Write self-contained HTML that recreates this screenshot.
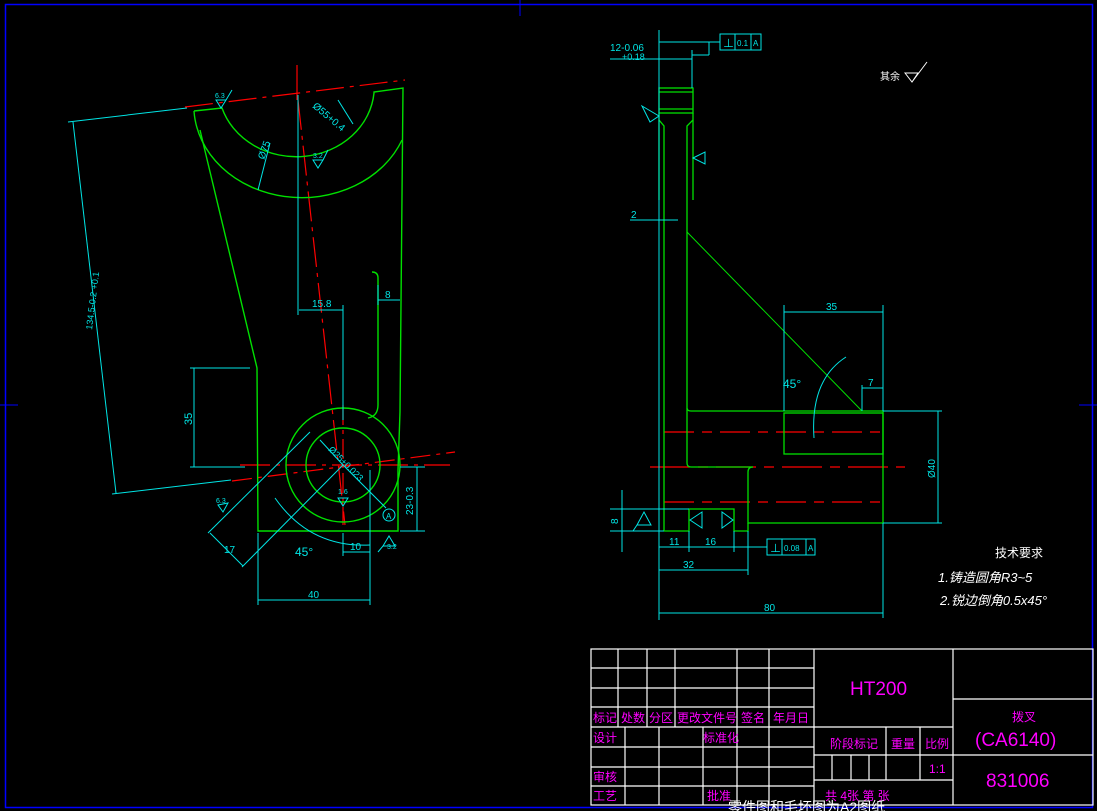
<!DOCTYPE html>
<html><head><meta charset="utf-8"><style>
html,body{margin:0;padding:0;background:#000;}
svg{display:block}
text{font-family:"Liberation Sans","Noto Sans CJK SC",sans-serif;}
</style></head><body>
<svg width="1097" height="811" viewBox="0 0 1097 811" xmlns="http://www.w3.org/2000/svg">
<rect width="1097" height="811" fill="#000"/>
<!-- border -->
<rect x="5.5" y="4.5" width="1087" height="803" fill="none" stroke="#0000ff" stroke-width="1.5"/>
<g stroke="#0000ff" stroke-width="1">
<line x1="520" y1="0" x2="520" y2="16"/><line x1="0" y1="405" x2="18" y2="405"/><line x1="1079" y1="405" x2="1097" y2="405"/>
</g>

<!-- LEFT VIEW -->
<g fill="none" stroke="#ff0000" stroke-width="1.2">
<line x1="185" y1="107" x2="405" y2="80" stroke-dasharray="28,6,4,6"/>
<line x1="297" y1="65" x2="297" y2="100"/>
<line x1="298" y1="100" x2="345" y2="525" stroke-dasharray="30,6,4,6"/>
<line x1="240" y1="465" x2="450" y2="465" stroke-dasharray="30,6,4,6"/>
<line x1="232" y1="481" x2="455" y2="452" stroke-dasharray="20,6,4,6"/>
<line x1="343" y1="405" x2="343" y2="525" stroke-dasharray="20,5,4,5"/>
</g>
<g fill="none" stroke="#00e000" stroke-width="1.4">
<path d="M194,111 L222,108 A78,70 0 0 0 374,93 L374,92 L403,88 L400,412"/>
<path d="M194,111 A108,92 0 0 0 402,140"/>
<path d="M200,130 L257,368 L258,531 L398,531 L398,470"/>
<path d="M372,272 Q378,272 378,278 L378,405 Q378,416 368,418"/>
<line x1="400" y1="412" x2="398" y2="470"/>
<circle cx="343" cy="465" r="57"/>
<circle cx="343" cy="465" r="37"/>
</g>
<g fill="none" stroke="#00e5e5" stroke-width="1">
<line x1="298" y1="95" x2="298" y2="315"/>
<line x1="299" y1="310" x2="343" y2="310"/><line x1="343" y1="305" x2="343" y2="420"/>
<text x="312" y="307" fill="#00e5e5" stroke="none" font-size="10">15.8</text>
<line x1="378" y1="300" x2="400" y2="300"/><line x1="378" y1="285" x2="378" y2="305"/>
<text x="385" y="298" fill="#00e5e5" stroke="none" font-size="10">8</text>
<line x1="190" y1="368" x2="250" y2="368"/><line x1="190" y1="467" x2="245" y2="467"/>
<line x1="194" y1="368" x2="194" y2="467"/>
<text x="192" y="425" fill="#00e5e5" stroke="none" font-size="11" transform="rotate(-90 192 425)">35</text>
<line x1="68" y1="122" x2="187" y2="108"/><line x1="112" y1="494" x2="231" y2="480"/>
<line x1="73" y1="122" x2="116" y2="493"/>
<text x="92" y="330" fill="#00e5e5" stroke="none" font-size="9" transform="rotate(-83 92 330)">134.5-0.2 +0.1</text>
<line x1="258" y1="533" x2="258" y2="605"/><line x1="370" y1="470" x2="370" y2="605"/>
<line x1="258" y1="600" x2="370" y2="600"/>
<text x="308" y="598" fill="#00e5e5" stroke="none" font-size="10">40</text>
<line x1="343" y1="533" x2="343" y2="556"/><line x1="343" y1="552" x2="370" y2="552"/>
<text x="350" y="550" fill="#00e5e5" stroke="none" font-size="10">10</text>
<line x1="400" y1="467" x2="425" y2="467"/><line x1="400" y1="531" x2="425" y2="531"/>
<line x1="417" y1="467" x2="417" y2="531"/>
<text x="413" y="515" fill="#00e5e5" stroke="none" font-size="10" transform="rotate(-90 413 515)">23-0.3</text>
<line x1="343" y1="465" x2="386" y2="508"/><line x1="320" y1="440" x2="343" y2="465"/>
<text x="328" y="450" fill="#00e5e5" stroke="none" font-size="9" transform="rotate(45 328 450)">Ø25+0.023</text>
<circle cx="389" cy="515" r="6"/><text x="386" y="519" fill="#00e5e5" stroke="none" font-size="8">A</text>
<line x1="208" y1="533" x2="310" y2="432"/><line x1="242" y1="567" x2="343" y2="465"/>
<line x1="210" y1="533" x2="243" y2="566"/>
<text x="224" y="553" fill="#00e5e5" stroke="none" font-size="10">17</text>
<path d="M275,498 Q310,548 370,545"/>
<text x="295" y="556" fill="#00e5e5" stroke="none" font-size="12">45°</text>
<path d="M216,100 L226,100 L221,108 Z M226,100 L232,90"/><text x="215" y="98" fill="#00e5e5" stroke="none" font-size="7">6.3</text>
<path d="M313,160 L323,160 L318,168 Z M323,160 L328,150"/><text x="313" y="158" fill="#00e5e5" stroke="none" font-size="7">3.2</text>
<path d="M338,498 L348,498 L343,506 Z"/><text x="338" y="494" fill="#00e5e5" stroke="none" font-size="7">1.6</text>
<path d="M383,546 L395,546 L389,536 Z M383,546 L378,552"/><text x="387" y="549" fill="#00e5e5" stroke="none" font-size="7">3.2</text>
<path d="M218,505 L228,503 L223,512 Z"/><text x="216" y="503" fill="#00e5e5" stroke="none" font-size="7">6.3</text>
<line x1="338" y1="100" x2="353" y2="124"/><text x="312" y="107" fill="#00e5e5" stroke="none" font-size="10" transform="rotate(40 312 107)">Ø55+0.4</text>
<line x1="270" y1="143" x2="258" y2="190"/><text x="264" y="160" fill="#00e5e5" stroke="none" font-size="10" transform="rotate(-70 264 160)">Ø75</text>
</g>

<!-- RIGHT VIEW -->
<g fill="none" stroke="#ff0000" stroke-width="1.2">
<line x1="664" y1="432" x2="883" y2="432" stroke-dasharray="30,8,10,8"/>
<line x1="664" y1="502" x2="883" y2="502" stroke-dasharray="30,8,10,8"/>
<line x1="650" y1="467" x2="905" y2="467" stroke-dasharray="40,8,10,8"/>
</g>
<g fill="none" stroke="#00e000" stroke-width="1.3">
<rect x="659" y="88" width="34" height="25"/>
<line x1="659" y1="92" x2="693" y2="92"/><line x1="659" y1="109" x2="693" y2="109"/>
<path d="M659,113 L659,120 L664,126 L664,200"/><path d="M693,113 L693,120 L687,126 L687,200"/>
<path d="M659,120 L659,200 M693,120 L693,200"/>
<line x1="664" y1="200" x2="664" y2="531"/>
<path d="M687,200 L687,408 Q687,411 691,411 L883,411 L883,523 L748,523 L748,472 Q748,467 753,467"/>
<path d="M687,408 L687,463 Q687,467 691,467 L753,467"/>
<rect x="784" y="413" width="99" height="41"/>
<path d="M664,531 L689,531 L689,509 L734,509 L734,531 L748,531 L748,523"/>
<line x1="687" y1="232" x2="862" y2="411" stroke-width="1"/>
</g>
<g fill="none" stroke="#00e5e5" stroke-width="1">
<line x1="659" y1="30" x2="659" y2="620"/><line x1="692" y1="50" x2="692" y2="88"/>
<line x1="610" y1="59" x2="692" y2="59"/>
<text x="610" y="51" fill="#00e5e5" stroke="none" font-size="10">12-0.06</text>
<text x="622" y="60" fill="#00e5e5" stroke="none" font-size="9">+0.18</text>
<line x1="659" y1="42" x2="720" y2="42"/><line x1="709" y1="42" x2="709" y2="55"/><line x1="692" y1="55" x2="709" y2="55"/>
<rect x="720" y="34" width="41" height="16"/><line x1="735" y1="34" x2="735" y2="50"/><line x1="751" y1="34" x2="751" y2="50"/>
<text x="723" y="47" fill="#00e5e5" stroke="none" font-size="11">⊥</text><text x="737" y="46" fill="#00e5e5" stroke="none" font-size="8">0.1</text><text x="753" y="46" fill="#00e5e5" stroke="none" font-size="8">A</text>
<line x1="630" y1="220" x2="678" y2="220"/><text x="631" y="218" fill="#00e5e5" stroke="none" font-size="10">2</text>
<path d="M642,106 L659,116 L650,122 Z"/><path d="M693,158 L705,152 L705,164 Z"/>
<line x1="784" y1="305" x2="784" y2="411"/><line x1="883" y1="305" x2="883" y2="411"/>
<line x1="784" y1="312" x2="883" y2="312"/><text x="826" y="310" fill="#00e5e5" stroke="none" font-size="10">35</text>
<line x1="862" y1="385" x2="862" y2="411"/><line x1="862" y1="388" x2="883" y2="388"/><text x="868" y="386" fill="#00e5e5" stroke="none" font-size="10">7</text>
<path d="M846,357 Q810,380 814,438"/><text x="783" y="388" fill="#00e5e5" stroke="none" font-size="12">45°</text>
<line x1="883" y1="411" x2="942" y2="411"/><line x1="883" y1="523" x2="942" y2="523"/><line x1="938" y1="411" x2="938" y2="523"/>
<text x="935" y="478" fill="#00e5e5" stroke="none" font-size="10" transform="rotate(-90 935 478)">Ø40</text>
<line x1="883" y1="523" x2="883" y2="618"/><line x1="659" y1="613" x2="883" y2="613"/><text x="764" y="611" fill="#00e5e5" stroke="none" font-size="10">80</text>
<line x1="748" y1="531" x2="748" y2="575"/><line x1="659" y1="570" x2="748" y2="570"/><text x="683" y="568" fill="#00e5e5" stroke="none" font-size="10">32</text>
<line x1="689" y1="531" x2="689" y2="552"/><line x1="734" y1="531" x2="734" y2="552"/>
<line x1="659" y1="547" x2="767" y2="547"/><text x="669" y="545" fill="#00e5e5" stroke="none" font-size="10">11</text><text x="705" y="545" fill="#00e5e5" stroke="none" font-size="10">16</text>
<rect x="767" y="539" width="48" height="16"/><line x1="782" y1="539" x2="782" y2="555"/><line x1="806" y1="539" x2="806" y2="555"/>
<text x="770" y="552" fill="#00e5e5" stroke="none" font-size="11">⊥</text><text x="784" y="551" fill="#00e5e5" stroke="none" font-size="8">0.08</text><text x="808" y="551" fill="#00e5e5" stroke="none" font-size="8">A</text>
<line x1="610" y1="509" x2="689" y2="509"/><line x1="610" y1="531" x2="664" y2="531"/>
<line x1="622" y1="490" x2="622" y2="552"/><text x="618" y="524" fill="#00e5e5" stroke="none" font-size="10" transform="rotate(-90 618 524)">8</text>
<path d="M637,525 L651,525 L644,512 Z M637,525 L633,531"/>
<path d="M690,520 L702,512 L702,528 Z"/><path d="M733,520 L722,512 L722,528 Z"/>
</g>

<!-- notes -->
<text x="880" y="80" fill="#fff" font-size="10">其余</text>
<path d="M905,73 L912,82 L918,73 Z M912,82 L927,62" fill="none" stroke="#fff"/>
<text x="995" y="557" fill="#fff" font-size="12">技术要求</text>
<text x="938" y="582" fill="#fff" font-size="13" font-style="italic">1.铸造圆角R3~5</text>
<text x="940" y="605" fill="#fff" font-size="13" font-style="italic">2.锐边倒角0.5x45°</text>

<!-- TITLE BLOCK -->
<g stroke="#fff" stroke-width="1.2" fill="none">
<rect x="591" y="649" width="502" height="156"/>
<line x1="591" y1="668" x2="814" y2="668"/><line x1="591" y1="688" x2="814" y2="688"/>
<line x1="591" y1="707" x2="814" y2="707"/><line x1="591" y1="727" x2="953" y2="727"/>
<line x1="591" y1="747" x2="814" y2="747"/><line x1="591" y1="767" x2="814" y2="767"/>
<line x1="591" y1="786" x2="814" y2="786"/>
<line x1="618" y1="649" x2="618" y2="727"/><line x1="647" y1="649" x2="647" y2="727"/>
<line x1="675" y1="649" x2="675" y2="727"/><line x1="737" y1="649" x2="737" y2="805"/>
<line x1="769" y1="649" x2="769" y2="805"/><line x1="814" y1="649" x2="814" y2="805"/>
<line x1="625" y1="727" x2="625" y2="805"/><line x1="659" y1="727" x2="659" y2="805"/>
<line x1="703" y1="727" x2="703" y2="805"/>
<line x1="953" y1="649" x2="953" y2="805"/>
<line x1="814" y1="755" x2="953" y2="755"/><line x1="814" y1="780" x2="953" y2="780"/>
<line x1="886" y1="727" x2="886" y2="780"/><line x1="920" y1="727" x2="920" y2="780"/>
<line x1="832" y1="755" x2="832" y2="780"/><line x1="851" y1="755" x2="851" y2="780"/><line x1="869" y1="755" x2="869" y2="780"/>
<line x1="953" y1="699" x2="1093" y2="699"/><line x1="953" y1="755" x2="1093" y2="755"/>
</g>
<g fill="#ff00ff" font-size="12">
<text x="593" y="722">标记</text><text x="621" y="722">处数</text><text x="649" y="722">分区</text><text x="677" y="722">更改文件号</text><text x="741" y="722">签名</text><text x="773" y="722">年月日</text>
<text x="593" y="742">设计</text><text x="703" y="742">标准化</text>
<text x="593" y="781">审核</text><text x="593" y="800">工艺</text><text x="707" y="800">批准</text>
<text x="830" y="748">阶段标记</text><text x="891" y="748">重量</text><text x="925" y="748">比例</text>
<text x="929" y="773">1:1</text><text x="825" y="800">共 4张 第  张</text>
<text x="850" y="695" font-size="19">HT200</text>
<text x="1012" y="721">拨叉</text>
<text x="975" y="746" font-size="19">(CA6140)</text>
<text x="986" y="787" font-size="19">831006</text>
</g>
<text x="728" y="812" fill="#fff" font-size="14">零件图和毛坯图为A2图纸</text>
</svg>
</body></html>
